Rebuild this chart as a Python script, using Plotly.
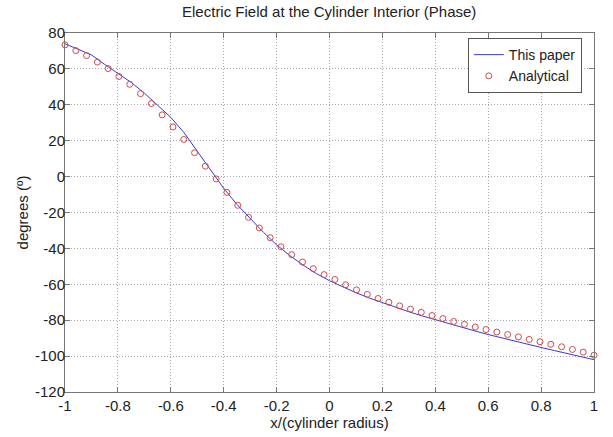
import plotly.graph_objects as go
import numpy as np

# "This paper" curve
paper_x = [-1.00, -0.95, -0.90, -0.85, -0.80, -0.75, -0.70, -0.65, -0.60, -0.55,
           -0.50, -0.45, -0.40, -0.35, -0.30, -0.25, -0.20, -0.15, -0.10, -0.05,
           0.00, 0.05, 0.10, 0.15, 0.20, 0.25, 0.30, 0.35, 0.40, 0.45,
           0.50, 0.55, 0.60, 0.65, 0.70, 0.75, 0.80, 0.85, 0.90, 0.95, 1.00]
paper_y = [74.0, 71.0, 67.8, 62.5, 57.4, 52.5, 46.5, 39.5, 33.0, 24.5,
           14.0, 3.5, -6.5, -15.5, -23.5, -31.0, -38.0, -44.0, -49.3, -54.0,
           -58.0, -61.5, -64.7, -67.6, -70.3, -72.9, -75.3, -77.6, -79.8, -81.9,
           -84.0, -86.0, -88.0, -89.9, -91.7, -93.5, -95.2, -96.9, -98.6, -100.3, -102.0]

# Analytical points (50 samples from -1 to 1)
analytical_x = list(np.linspace(-1, 1, 50))
analytical_y = [73.4, 70.2, 67.4, 63.8, 60.2, 55.8, 51.4, 46.2, 40.7, 34.4,
                27.7, 20.7, 13.3, 5.8, -1.3, -8.8, -16.0, -22.7, -28.6, -34.0,
                -39.1, -43.5, -47.6, -51.3, -54.6, -57.3, -60.3, -63.1, -65.6, -67.9,
                -70.0, -72.0, -73.8, -75.6, -77.4, -79.1, -80.7, -82.3, -83.8, -85.2,
                -86.6, -88.0, -89.3, -90.7, -92.0, -93.4, -94.8, -96.3, -97.8, -99.5]

x_tickvals = [-1, -0.8, -0.6, -0.4, -0.2, 0, 0.2, 0.4, 0.6, 0.8, 1]
x_ticktext = ["-1", "-0.8", "-0.6", "-0.4", "-0.2", "0", "0.2", "0.4", "0.6", "0.8", "1"]
y_tickvals = [80, 60, 40, 20, 0, -20, -40, -60, -80, -100, -120]
y_ticktext = ["80", "60", "40", "20", "0", "-20", "-40", "-60", "-80", "-100", "-120"]

FONT = "Liberation Sans, Arial, sans-serif"
FS = 15

fig = go.Figure()
fig.add_trace(go.Scatter(x=paper_x, y=paper_y, mode="lines", name="This paper",
                         line=dict(color="#3a3acc", width=1)))
fig.add_trace(go.Scatter(x=analytical_x, y=analytical_y, mode="markers", name="Analytical",
                         cliponaxis=False,
                         marker=dict(symbol="circle-open", size=6, color="#d04a4a",
                                     line=dict(width=1, color="#d04a4a"))))

axis_common = dict(showline=True, linecolor="#777", linewidth=1, mirror="ticks",
                   ticks="inside", ticklen=5, tickcolor="#777",
                   showgrid=True, gridcolor="#a8a8a8", griddash="1px,2px", gridwidth=1,
                   zeroline=False, tickfont=dict(family=FONT, size=FS, color="#222"))

fig.update_layout(
    width=613, height=437,
    margin=dict(l=65, r=19, t=33, b=43),
    paper_bgcolor="white", plot_bgcolor="white",
    title=dict(text="Electric Field at the Cylinder Interior (Phase)",
               x=0.537, xanchor="center", y=0.972, yanchor="middle",
               font=dict(family=FONT, size=FS, color="#222")),
    xaxis=dict(range=[-1, 1], tickvals=x_tickvals, ticktext=x_ticktext,
               ticklabelstandoff=0,
               title=dict(text="x/(cylinder radius)", standoff=0,
                          font=dict(family=FONT, size=FS, color="#222")),
               **axis_common),
    yaxis=dict(range=[-120, 80], tickvals=y_tickvals, ticktext=y_ticktext,
               ticklabelstandoff=-4,
               title=dict(text="degrees (º)", standoff=2,
                          font=dict(family=FONT, size=FS, color="#222")),
               **axis_common),
    legend=dict(x=0.977, xanchor="right", y=0.986, yanchor="top",
                bgcolor="white", bordercolor="#555", borderwidth=1,
                font=dict(family=FONT, size=14, color="#222"),
                tracegroupgap=0, itemwidth=30),
    showlegend=True,
)

fig.write_html("out.html", config={"displayModeBar": False},
               post_script="document.body.style.margin='0px';")
